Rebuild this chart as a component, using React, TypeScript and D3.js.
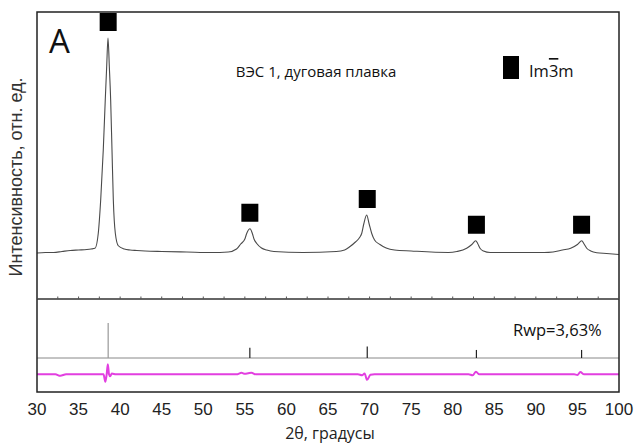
import React from 'react';
import * as d3 from 'd3';

// Observed diffraction pattern (2θ in degrees, intensity in counts)
const obsTheta = [
  30.0, 31.0, 32.0, 33.0, 34.0, 35.0, 36.0, 36.5, 36.98, 37.37, 37.66, 37.97, 38.21, 38.38, 38.54,
  38.7, 38.86, 39.02, 39.18, 39.42, 39.78, 40.5, 41.2, 42.0, 43.0, 45.0, 48.0, 51.0, 53.0, 54.0,
  54.5, 55.0, 55.22, 55.62, 55.9, 56.1, 56.43, 57.0, 57.63, 58.5, 62.0, 66.0, 67.0, 67.65, 68.3,
  68.8, 69.05, 69.3, 69.65, 69.95, 70.26, 70.6, 71.25, 72.0, 73.0, 75.0, 79.5, 80.5, 81.68, 82.3,
  82.77, 83.0, 83.28, 83.7, 84.5, 87.0, 91.0, 92.06, 93.2, 94.19, 95.0, 95.52, 95.8, 96.12, 96.6,
  97.32, 98.5, 100.0,
];
const obsIntensity = [
  184, 186, 186, 190, 194, 196, 198, 200, 203, 263, 396, 596, 796, 929, 1044,
  929, 796, 596, 396, 263, 213, 200, 196, 194, 192, 190, 188, 186, 188, 200,
  220, 240, 262, 281, 262, 240, 222, 204, 196, 190, 186, 190, 196, 210, 228,
  246, 262, 300, 336, 300, 262, 236, 218, 204, 196, 192, 186, 190, 203, 218,
  233, 222, 203, 192, 186, 186, 186, 188, 196, 203, 218, 233, 220, 203, 192,
  185, 182, 178,
];

// Calculated Bragg reflections of the Im-3m phase
const braggPos = [38.56, 55.6, 69.72, 82.85, 95.5];
const braggRel = [100, 29, 33, 23, 23];

// Difference curve (observed - calculated)
const diffTheta = [
  30.0, 32.2, 32.8, 33.5, 38.0, 38.22, 38.38, 38.52, 38.66, 38.8, 39.0, 39.5, 54.0, 54.6, 55.0,
  55.4, 55.8, 56.3, 68.6, 69.1, 69.4, 69.7, 70.1, 70.6, 81.9, 82.4, 82.8, 83.2, 94.6, 95.0,
  95.35, 95.8, 100.0,
];
const diffValue = [
  0, 0, -6, 0, 0, -30, 0, 40, 0, -8, 3, 0, 0, 6, 2,
  4, 6, 0, 0, -4, 3, -22, -2, 0, 0, -4, 10, 0, 0, -3,
  9, 0, 0,
];

const xTicks = [30, 35, 40, 45, 50, 55, 60, 65, 70, 75, 80, 85, 90, 95, 100];

const W = 637;
const H = 445;
const left = 37;
const right = 619;
const top = 12;
const split = 299;
const bottom = 392;

export default function App() {
  const x = d3.scaleLinear().domain([30, 100]).range([left, right]);
  const y = d3.scaleLinear().domain([0, 1148]).range([split, top]);
  const yBragg = d3.scaleLinear().domain([0, 100]).range([358, 323]);
  const yDiff = d3.scaleLinear().domain([-100, 100]).range([374.3 + 25, 374.3 - 25]);

  const obs = obsTheta.map((t, i) => [t, obsIntensity[i]] as [number, number]);
  const diff = diffTheta.map((t, i) => [t, diffValue[i]] as [number, number]);

  const obsLine = d3
    .line<[number, number]>()
    .x((d) => x(d[0]))
    .y((d) => y(d[1]))
    .curve(d3.curveMonotoneX);
  const diffLine = d3
    .line<[number, number]>()
    .x((d) => x(d[0]))
    .y((d) => yDiff(d[1]))
    .curve(d3.curveMonotoneX);

  const minorTicks = d3.range(30, 100.01, 2.5);

  // marker heights follow each reflection's observed peak
  const peakTop = braggPos.map((p) => {
    const near = obs.filter((d) => Math.abs(d[0] - p) < 0.7);
    return d3.max(near, (d) => d[1]) ?? 0;
  });

  const sansText = "'Open Sans', 'Noto Sans', sans-serif";
  const axisText = "'Liberation Sans', Arial, sans-serif";

  return (
    <svg
      width={W}
      height={H}
      style={{ position: 'absolute', left: 0, top: 0, background: '#fff' }}
    >
      <rect x={0} y={0} width={W} height={H} fill="#fff" />

      {/* upper panel: observed pattern */}
      <path d={obsLine(obs) ?? ''} fill="none" stroke="#4a4a4a" strokeWidth={1.1} />

      {braggPos.map((p, i) => (
        <rect
          key={`m${i}`}
          x={x(p) - 8.5}
          y={y(peakTop[i]) - 7 - 18}
          width={17}
          height={18}
          fill="#000"
        />
      ))}

      {/* lower panel: Bragg positions and difference */}
      <line x1={left} x2={right} y1={358} y2={358} stroke="#888" strokeWidth={1} />
      {braggPos.map((p, i) => (
        <line
          key={`b${i}`}
          x1={x(p)}
          x2={x(p)}
          y1={358}
          y2={yBragg(braggRel[i])}
          stroke={i === 0 ? '#999' : '#222'}
          strokeWidth={1.2}
        />
      ))}
      <path d={diffLine(diff) ?? ''} fill="none" stroke="#e23fe0" strokeWidth={2} />

      {/* frame and panel separator */}
      <rect x={left} y={top} width={right - left} height={bottom - top} fill="none" stroke="#222" strokeWidth={1.5} />
      <line x1={left} x2={right} y1={split} y2={split} stroke="#333" strokeWidth={1.6} />
      {minorTicks.map((t) => (
        <line key={`t${t}`} x1={x(t)} x2={x(t)} y1={split} y2={split - 2.5} stroke="#555" strokeWidth={1} />
      ))}

      {/* x tick labels */}
      {xTicks.map((t) => (
        <text
          key={`l${t}`}
          x={x(t)}
          y={415}
          textAnchor="middle"
          fontFamily={axisText}
          fontSize={17}
          fill="#222"
        >
          {t}
        </text>
      ))}
      <text x={330} y={439} textAnchor="middle" fontFamily={sansText} fontSize={16} fill="#222">
        2θ, градусы
      </text>
      <text
        transform="translate(22,177) rotate(-90)"
        textAnchor="middle"
        fontFamily={axisText}
        fontSize={18}
        fill="#333"
      >
        Интенсивность, отн. ед.
      </text>

      {/* annotations */}
      <text x={49} y={53} fontFamily={sansText} fontSize={33} fill="#111">
        A
      </text>
      <text x={316} y={77} textAnchor="middle" fontFamily={sansText} fontSize={15} fill="#111">
        ВЭС 1, дуговая плавка
      </text>
      <rect x={503} y={56} width={16} height={23} fill="#000" />
      <text x={529} y={77} fontFamily={sansText} fontSize={16.5} fill="#111">
        Im<tspan textDecoration="overline" style={{ textDecoration: 'overline' }}>3</tspan>m
      </text>
      <text x={513} y={336} fontFamily={sansText} fontSize={16.5} fill="#111">
        Rwp=3,63%
      </text>
    </svg>
  );
}
